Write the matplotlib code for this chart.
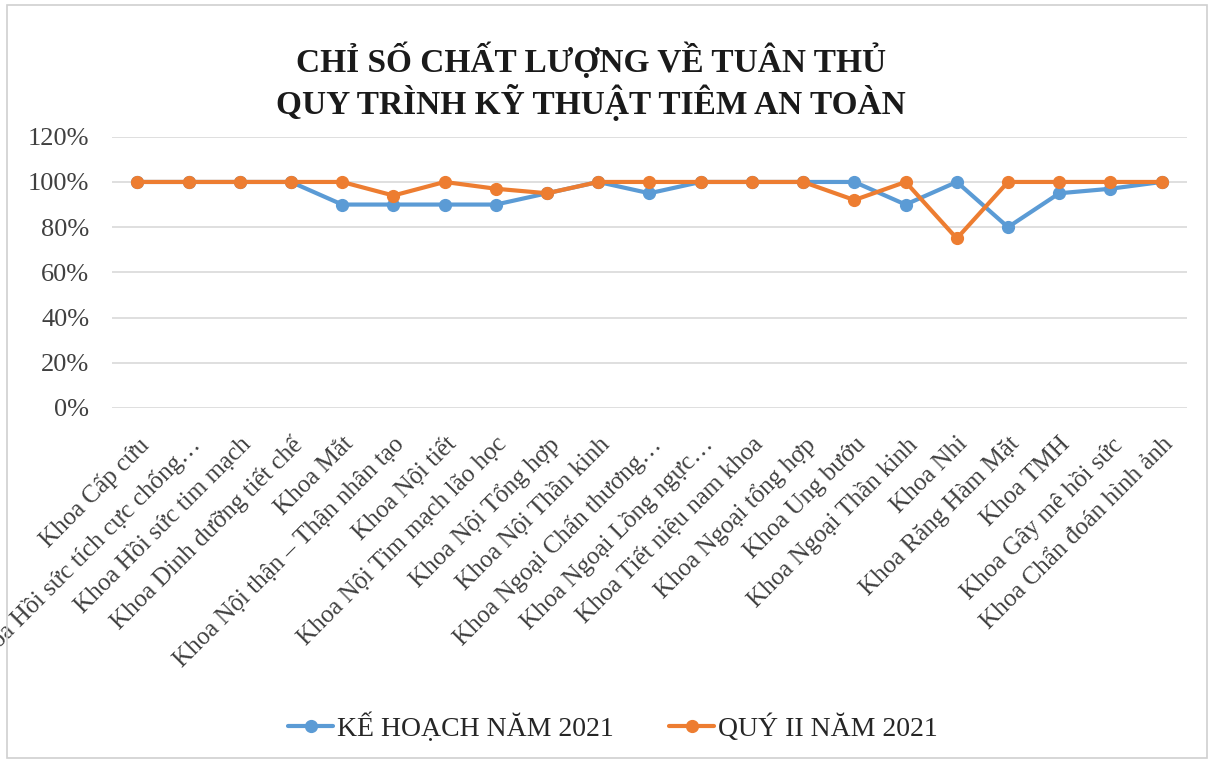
import matplotlib.pyplot as plt
from matplotlib.patches import Rectangle
from matplotlib.ticker import PercentFormatter

plt.rcParams['font.family'] = ['Liberation Serif', 'DejaVu Serif']

khoa = [
    'Khoa Cấp cứu',
    'Khoa Hồi sức tích cực chống…',
    'Khoa Hồi sức tim mạch',
    'Khoa Dinh dưỡng tiết chế',
    'Khoa Mắt',
    'Khoa Nội thận – Thận nhân tạo',
    'Khoa Nội tiết',
    'Khoa Nội Tim mạch lão học',
    'Khoa Nội Tổng hợp',
    'Khoa Nội Thần kinh',
    'Khoa Ngoại Chấn thương…',
    'Khoa Ngoại Lồng ngực…',
    'Khoa Tiết niệu nam khoa',
    'Khoa Ngoại tổng hợp',
    'Khoa Ung bướu',
    'Khoa Ngoại Thần kinh',
    'Khoa Nhi',
    'Khoa Răng Hàm Mặt',
    'Khoa TMH',
    'Khoa Gây mê hồi sức',
    'Khoa Chẩn đoán hình ảnh',
]
ke_hoach = [1.00, 1.00, 1.00, 1.00, 0.90, 0.90, 0.90, 0.90, 0.95, 1.00, 0.95,
            1.00, 1.00, 1.00, 1.00, 0.90, 1.00, 0.80, 0.95, 0.97, 1.00]
quy_ii = [1.00, 1.00, 1.00, 1.00, 1.00, 0.94, 1.00, 0.97, 0.95, 1.00, 1.00,
          1.00, 1.00, 1.00, 0.92, 1.00, 0.75, 1.00, 1.00, 1.00, 1.00]
ten_series = ['KẾ HOẠCH NĂM 2021', 'QUÝ II NĂM 2021']
mau = ['#5B9BD5', '#ED7D31']
y_ticks = [0, 0.2, 0.4, 0.6, 0.8, 1.0, 1.2]

fig = plt.figure(figsize=(12.14, 7.64), dpi=100)
ax = fig.add_axes([0.092, 0.466, 0.886, 0.355])

x = list(range(len(khoa)))
for vals, ten, c in zip([ke_hoach, quy_ii], ten_series, mau):
    ax.plot(x, vals, color=c, lw=3, marker='o', ms=8.5, label=ten,
            solid_capstyle='round', zorder=3)

ax.set_xlim(-0.5, len(khoa) - 0.5)
ax.set_ylim(0, 1.2)
ax.set_yticks(y_ticks)
ax.yaxis.set_major_formatter(PercentFormatter(1.0, decimals=0))
ax.grid(axis='y', color='#D9D9D9', lw=1.2)
ax.set_axisbelow(True)
for s in ax.spines.values():
    s.set_visible(False)
ax.tick_params(axis='both', length=0, colors='#404040')
ax.tick_params(axis='y', pad=16, labelsize=19)
ax.tick_params(axis='x', pad=18)
ax.set_xticks(x)
ax.set_xticklabels(khoa, rotation=45, ha='right', rotation_mode='anchor',
                   fontsize=18)

fig.text(0.487, 0.893, 'CHỈ SỐ CHẤT LƯỢNG VỀ TUÂN THỦ\nQUY TRÌNH KỸ THUẬT TIÊM AN TOÀN',
         ha='center', va='center', fontsize=24, fontweight='bold',
         linespacing=1.15, color='#1a1a1a')

fig.legend(loc='center', bbox_to_anchor=(0.505, 0.048), ncol=2, frameon=False,
           fontsize=20, handlelength=1.6, columnspacing=2.0, handletextpad=0.15,
           labelcolor='#262626')

fig.patches.append(Rectangle((0.006, 0.008), 0.988, 0.985, transform=fig.transFigure,
                             fill=False, edgecolor='#D0D0D0', lw=1.2))

fig.savefig('out.png', dpi=100)
